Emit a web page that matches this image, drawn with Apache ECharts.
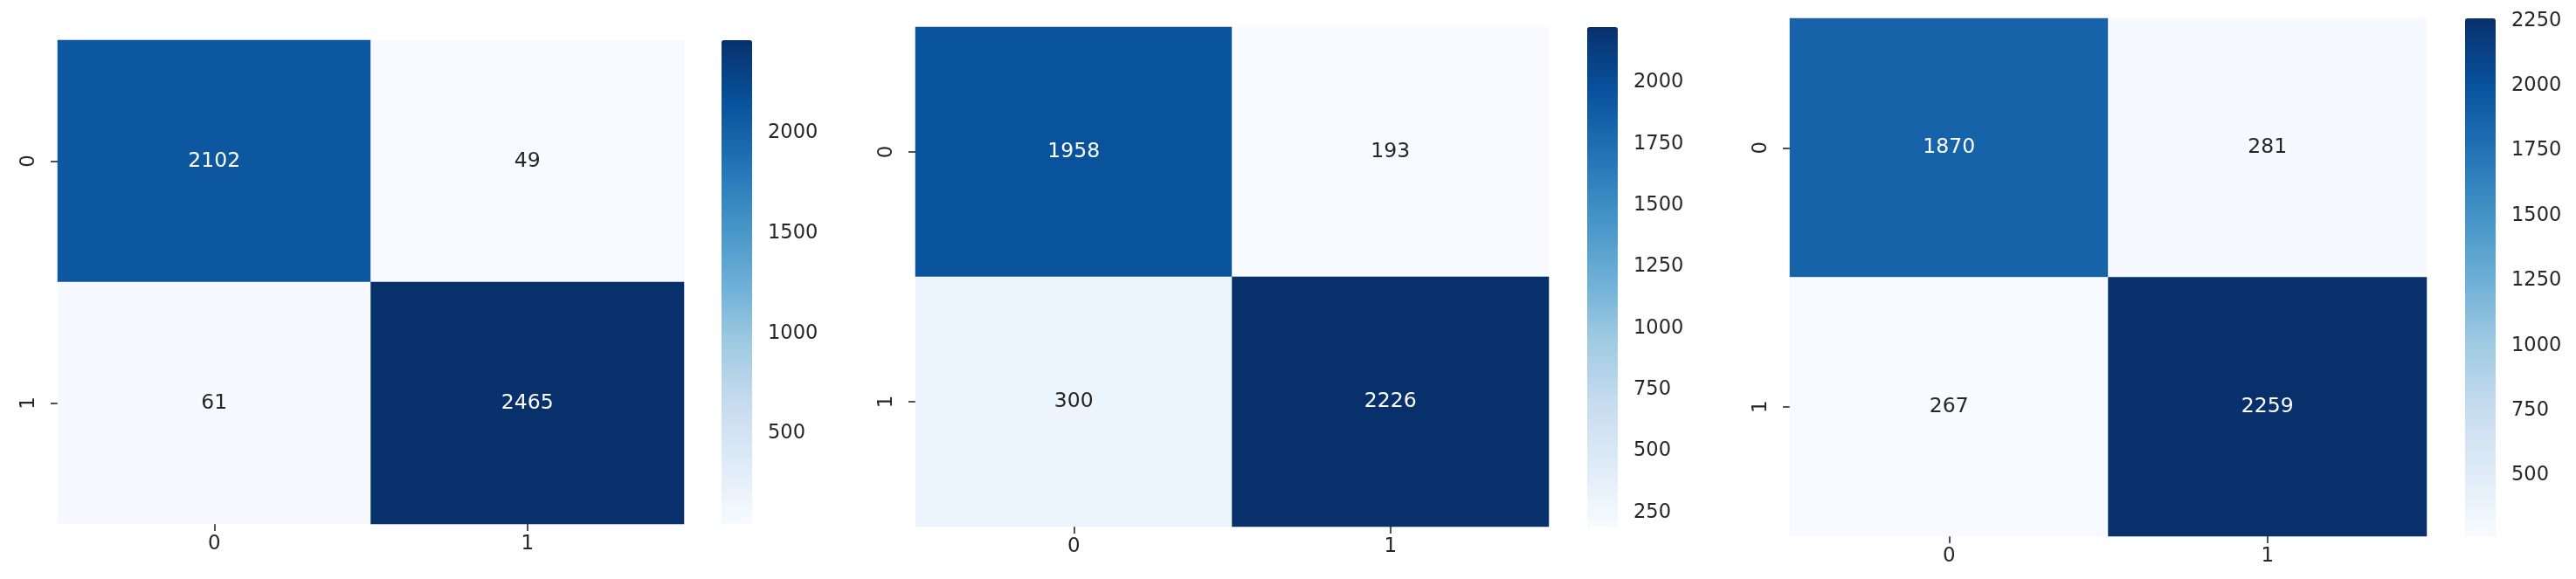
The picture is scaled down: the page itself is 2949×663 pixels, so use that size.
<!DOCTYPE html>
<html>
<head>
<meta charset="utf-8">
<script src="https://cdn.jsdelivr.net/npm/echarts@6/dist/echarts.min.js"></script>
<style>
  html, body { margin: 0; padding: 0; background: #fff; }
  #chart { width: 2949px; height: 663px; }
</style>
</head>
<body>
<div id="chart"></div>
<script>
const labels = ['0', '1']

// confusion matrices, rows = true class, cols = predicted
const cm1 = [[2102, 49], [61, 2465]]
const cm2 = [[1958, 193], [300, 2226]]
const cm3 = [[1870, 281], [267, 2259]]

const cbTicks1 = [500, 1000, 1500, 2000]
const cbTicks2 = [250, 500, 750, 1000, 1250, 1500, 1750, 2000]
const cbTicks3 = [500, 750, 1000, 1250, 1500, 1750, 2000, 2250]

// matplotlib "Blues"
const blues = ['#f7fbff', '#deebf7', '#c6dbef', '#9ecae1', '#6baed6', '#4292c6', '#2171b5', '#08519c', '#08306b']

const mats = [cm1, cm2, cm3]
const cbTicks = [cbTicks1, cbTicks2, cbTicks3]

// pixel layout of each panel: heatmap box and colorbar box
const layout = [
  { hm: [66, 46, 717, 554], cb: [826, 46, 35, 554] },
  { hm: [1048, 31, 725, 572], cb: [1817, 31, 35, 572] },
  { hm: [2049, 21, 729, 593], cb: [2822, 21, 35, 593] },
]

const font = 'DejaVu Sans'
const txt = '#262626'

const grid = []
const xAxis = []
const yAxis = []
const series = []
const visualMap = []

mats.forEach((m, i) => {
  const flat = m.flat()
  const lo = Math.min(...flat)
  const hi = Math.max(...flat)
  const L = layout[i]

  // heatmap grid
  grid.push({ left: L.hm[0], top: L.hm[1], width: L.hm[2], height: L.hm[3] })
  // colorbar grid
  grid.push({ left: L.cb[0], top: L.cb[1], width: L.cb[2], height: L.cb[3] })

  xAxis.push({
    gridIndex: i * 2,
    type: 'category',
    data: labels,
    axisLine: { show: false },
    axisTick: { show: true, alignWithLabel: true, length: 8, lineStyle: { color: txt, width: 1.6 } },
    axisLabel: { margin: 12, fontSize: 23, fontFamily: font, color: txt },
    splitArea: { show: false },
  })
  xAxis.push({ gridIndex: i * 2 + 1, type: 'value', show: false })

  yAxis.push({
    gridIndex: i * 2,
    type: 'category',
    data: labels,
    inverse: true,
    axisLine: { show: false },
    axisTick: { show: true, alignWithLabel: true, length: 8, lineStyle: { color: txt, width: 1.6 } },
    axisLabel: { rotate: 90, margin: 21, fontSize: 23, fontFamily: font, color: txt },
  })
  yAxis.push({
    gridIndex: i * 2 + 1,
    type: 'value',
    position: 'right',
    min: lo,
    max: hi,
    axisLine: { show: false },
    splitLine: { show: false },
    axisTick: { show: true, length: 9, customValues: cbTicks[i], lineStyle: { color: txt, width: 1.6 } },
    axisLabel: {
      margin: 18,
      customValues: cbTicks[i],
      fontSize: 22.5,
      fontFamily: font,
      color: txt,
      formatter: (v) => String(v),
    },
  })

  const data = []
  m.forEach((row, r) => {
    row.forEach((v, c) => {
      const t = (v - lo) / (hi - lo)
      data.push({ value: [c, r, v], label: { color: t > 0.5 ? '#ffffff' : txt } })
    })
  })

  series.push({
    type: 'heatmap',
    xAxisIndex: i * 2,
    yAxisIndex: i * 2,
    data: data,
    label: { show: true, fontSize: 23.5, fontFamily: font, formatter: (p) => String(p.value[2]) },
    emphasis: { disabled: true },
  })

  visualMap.push({
    type: 'continuous',
    seriesIndex: i,
    dimension: 2,
    min: lo,
    max: hi,
    calculable: false,
    hoverLink: false,
    orient: 'vertical',
    left: L.cb[0],
    top: L.cb[1],
    itemWidth: L.cb[2],
    itemHeight: L.cb[3],
    padding: 0,
    inRange: { color: blues },
  })
})

const chart = echarts.init(document.getElementById('chart'))
chart.setOption({
  animation: false,
  backgroundColor: '#fff',
  grid: grid,
  xAxis: xAxis,
  yAxis: yAxis,
  visualMap: visualMap,
  series: series,
})
</script>
</body>
</html>
